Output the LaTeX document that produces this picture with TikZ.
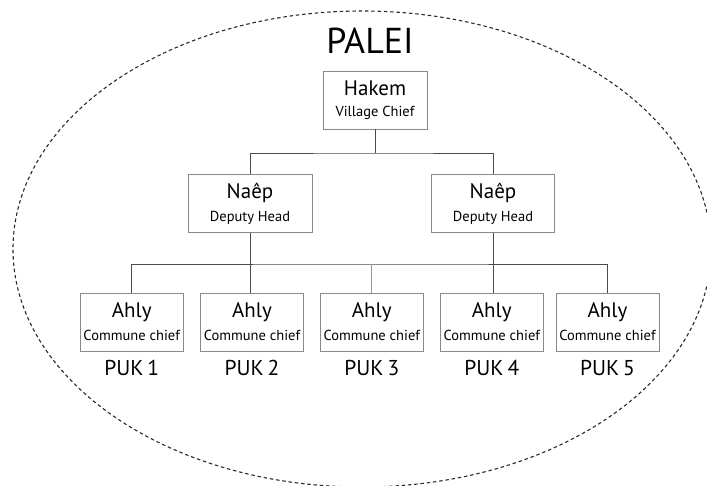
\documentclass[tikz,border=0pt]{standalone}
\usepackage{fontspec}
\setmainfont{PT Sans}
\definecolor{boxgray}{HTML}{8A8A8A}
\definecolor{linegray}{HTML}{4A4A4A}
\definecolor{lightline}{HTML}{9A9A9A}
\definecolor{dashblack}{HTML}{2A2A2A}
\begin{document}
\begin{tikzpicture}[x=1pt,y=-1pt,
  box/.style={draw=boxgray, line width=0.9pt, fill=white, inner sep=0pt, minimum height=58pt},
  conn/.style={draw=linegray, line width=0.9pt},
  titletext/.style={anchor=base, inner sep=0pt, font=\fontsize{21}{21}\selectfont},
  subtext/.style={anchor=base, inner sep=0pt, font=\fontsize{14.5}{14.5}\selectfont},
  puktext/.style={anchor=base, inner sep=0pt, font=\fontsize{21.5}{21.5}\selectfont},
  bigtext/.style={anchor=base, inner sep=0pt, font=\fontsize{36}{36}\selectfont}]
\useasboundingbox (0,0) rectangle (707,485);
\draw[dashblack, line width=1.1pt, dash pattern=on 3.5pt off 2.8pt] (362,249) ellipse [x radius=349, y radius=238];

\node[bigtext] (palei) at (370,53) {PALEI};

% boxes
\node[box, minimum width=104pt] (hakem) at (375,100) {};
\node[box, minimum width=124pt] (naep1) at (250,203.5) {};
\node[box, minimum width=123pt] (naep2) at (493,203.5) {};
\node[box, minimum width=103pt] (ahly1) at (131.7,322.5) {};
\node[box, minimum width=103pt] (ahly2) at (252,322.5) {};
\node[box, minimum width=103pt] (ahly3) at (371.8,322.5) {};
\node[box, minimum width=103pt] (ahly4) at (491.8,322.5) {};
\node[box, minimum width=103pt] (ahly5) at (607.5,322.5) {};

% texts in boxes
\node[titletext] (hakemT) at ([yshift=-25pt]hakem.north) {Hakem};
\node[subtext] (hakemS) at ([yshift=-46pt]hakem.north) {Village Chief};
\foreach \n in {naep1,naep2}{
  \node[titletext] (\n T) at ([yshift=-24pt]\n.north) {Naêp};
  \node[subtext] (\n S) at ([yshift=-47pt]\n.north) {Deputy Head};
}
\foreach \i in {1,...,5}{
  \node[titletext] (ahly\i T) at ([yshift=-24pt]ahly\i.north) {Ahly};
  \node[subtext] (ahly\i S) at ([yshift=-47.5pt]ahly\i.north) {Commune chief};
  \node[puktext] (puk\i) at ([yshift=-82pt]ahly\i.north) {PUK\hspace{4pt}\i};
}

% connectors
\coordinate (topbar) at (375,153);
\coordinate (botbar) at (372,264);
\draw[conn] (hakem.south) -- (topbar);
\draw[conn] (naep1.north) |- (topbar) -| (naep2.north);
\draw[conn] (ahly1.north) |- (botbar) -| (ahly5.north);
\draw[conn] (naep1.south) -- (naep1.south |- ahly2.north);
\draw[conn] (naep2.south) -- (naep2.south |- ahly4.north);
\draw[draw=lightline, line width=0.9pt] (ahly3.north) -- (ahly3.north |- botbar);
\end{tikzpicture}
\end{document}
